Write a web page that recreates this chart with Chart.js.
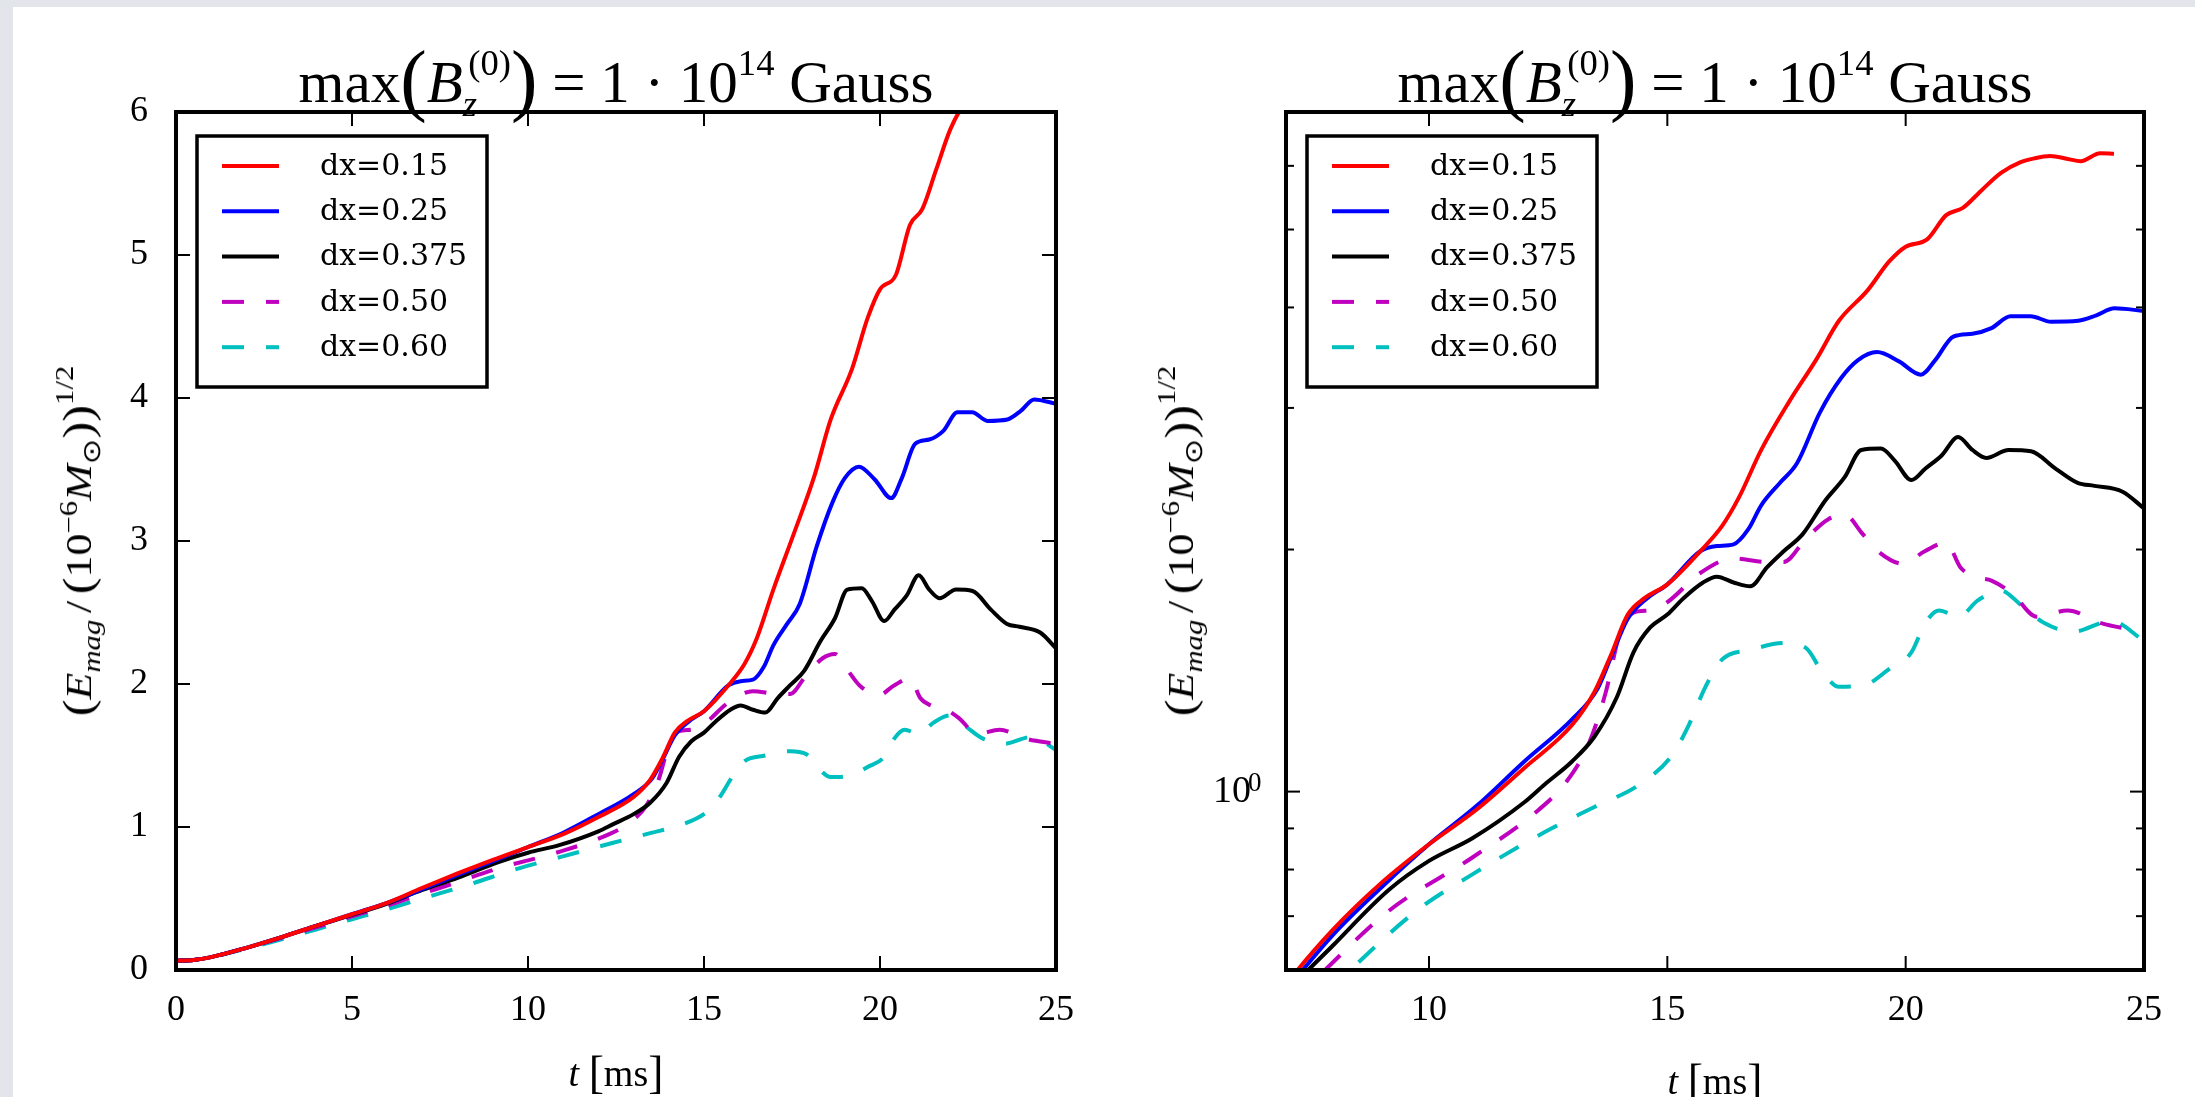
<!DOCTYPE html>
<html>
<head>
<meta charset="UTF-8">
<title>Emag vs t</title>
<script src="https://cdn.jsdelivr.net/npm/chart.js"></script>
<style>
    body {
        margin: 0;
        width: 2195px;
        height: 1097px;
        overflow: hidden;
        position: relative;
        background: #e2e5ea;
        font-family: "Liberation Serif", serif;
        color: #000;
    }
    .page {
        position: absolute;
        left: 13px; top: 7px; right: 0; bottom: 0;
        background: #fff;
    }
    canvas { position: absolute; top: 0; }
    .ttl {
        position: absolute;
        top: 46px;
        font-size: 59px;
        line-height: 59px;
        text-align: center;
        white-space: nowrap;
    }
    .bp { font-size: 1.35em; position: relative; top: 0.05em; }
    .sb { font-size: 0.62em; position: relative; top: 0.38em; }
    .sp { font-size: 0.62em; position: relative; top: -0.75em; }
    .ylab {
        position: absolute;
        font-size: 36px;
        line-height: 36px;
        white-space: nowrap;
        transform: translate(-50%, -50%) rotate(-90deg) scaleX(1.22);
    }
    .ylab .s { font-size: 0.7em; position: relative; }
    .ylab .p { font-size: 1.15em; position: relative; top: 0.03em; }
    .ylab .sl { margin: 0 0.15em; }
    .xlab {
        position: absolute;
        font-size: 38px;
        line-height: 38px;
        text-align: center;
        white-space: nowrap;
    }
    .xlab .p { font-size: 1.2em; position: relative; top: 0.04em; }
</style>
</head>
<body>
<div class="page"></div>
<canvas id="left" width="1100" height="1097" style="left:0"></canvas>
<canvas id="right" width="1095" height="1097" style="left:1100px"></canvas>

<div class="ttl" style="left:176px;width:880px">max<span class="bp">(</span><i>B</i><span class="sb"><i>z</i></span><span class="sp" style="margin-left:-0.24em">(0)</span><span class="bp">)</span> = 1 · 10<span class="sp">14</span> Gauss</div>
<div class="ttl" style="left:1286px;width:858px">max<span class="bp">(</span><i>B</i><span class="sb"><i>z</i></span><span class="sp" style="margin-left:-0.24em">(0)</span><span class="bp">)</span> = 1 · 10<span class="sp">14</span> Gauss</div>

<div class="ylab" style="left:80px;top:541px"><span class="p">(</span><i>E</i><span class="s" style="top:.35em"><i>mag</i></span><span class="sl">/</span><span class="p">(</span>10<span class="s" style="top:-.55em">−6</span><i>M</i><span class="s" style="top:.35em">⊙</span><span class="p">))</span><span class="s" style="top:-.7em">1/2</span></div>
<div class="ylab" style="left:1182px;top:541px"><span class="p">(</span><i>E</i><span class="s" style="top:.35em"><i>mag</i></span><span class="sl">/</span><span class="p">(</span>10<span class="s" style="top:-.55em">−6</span><i>M</i><span class="s" style="top:.35em">⊙</span><span class="p">))</span><span class="s" style="top:-.7em">1/2</span></div>

<div class="xlab" style="left:176px;width:880px;top:1052px"><i>t</i> <span class="p">[</span>ms<span class="p">]</span></div>
<div class="xlab" style="left:1286px;width:858px;top:1060px"><i>t</i> <span class="p">[</span>ms<span class="p">]</span></div>

<script>
    // magnetic energy (E_mag / 1e-6 Msun)^(1/2) against time in ms, one pair of arrays per resolution
    const tRed = [0, 0.5, 1, 2, 3, 4, 5, 6, 7, 8, 9, 10, 11, 12, 13, 13.47, 13.82, 14.17, 14.52, 15.0, 15.69, 16.15, 16.5, 16.97, 17.55, 18.13, 18.6, 19.2, 19.65, 20.0, 20.45, 20.85, 21.2, 21.6, 22.0, 22.4, 22.7, 23.03, 23.4, 23.67, 24.08, 24.37];
    const eRed = [0.065, 0.07, 0.09, 0.155, 0.23, 0.31, 0.39, 0.47, 0.575, 0.675, 0.77, 0.86, 0.95, 1.07, 1.21, 1.33, 1.48, 1.66, 1.74, 1.81, 1.99, 2.14, 2.32, 2.66, 3.05, 3.45, 3.85, 4.2, 4.56, 4.76, 4.86, 5.21, 5.32, 5.6, 5.88, 6.06, 6.13, 6.17, 6.12, 6.08, 6.22, 6.21];

    const tBlue = [0, 0.5, 1, 2, 3, 4, 5, 6, 7, 8, 9, 10, 11, 12, 13, 13.53, 13.82, 14.17, 14.58, 15.0, 15.69, 16.04, 16.39, 16.7, 16.97, 17.36, 17.72, 18.2, 18.65, 19.0, 19.4, 19.85, 20.32, 20.62, 21.0, 21.4, 21.8, 22.2, 22.62, 23.05, 23.62, 24.0, 24.38, 25];
    const eBlue = [0.065, 0.07, 0.09, 0.155, 0.23, 0.31, 0.39, 0.47, 0.565, 0.665, 0.76, 0.86, 0.96, 1.09, 1.23, 1.34, 1.47, 1.64, 1.74, 1.81, 1.99, 2.02, 2.03, 2.12, 2.27, 2.42, 2.56, 2.96, 3.27, 3.44, 3.52, 3.43, 3.30, 3.44, 3.68, 3.71, 3.77, 3.90, 3.90, 3.84, 3.85, 3.91, 3.99, 3.96];

    const tBlack = [0, 0.5, 1, 2, 3, 4, 5, 6, 7, 8, 9.16, 10, 10.91, 12, 12.42, 13.0, 13.47, 13.94, 14.29, 14.64, 15.0, 15.34, 15.75, 16.04, 16.39, 16.74, 17.09, 17.44, 17.84, 18.31, 18.72, 19.07, 19.48, 19.77, 20.12, 20.41, 20.76, 21.1, 21.4, 21.69, 22.16, 22.63, 23.15, 23.61, 23.96, 24.55, 25];
    const eBlack = [0.065, 0.07, 0.09, 0.155, 0.23, 0.31, 0.385, 0.465, 0.56, 0.645, 0.755, 0.82, 0.875, 0.97, 1.02, 1.09, 1.17, 1.31, 1.49, 1.60, 1.66, 1.74, 1.82, 1.85, 1.82, 1.80, 1.90, 1.99, 2.09, 2.30, 2.46, 2.66, 2.67, 2.58, 2.44, 2.52, 2.62, 2.76, 2.66, 2.60, 2.66, 2.65, 2.52, 2.42, 2.40, 2.36, 2.25];

    const tMag = [0, 0.5, 1, 2, 3, 4, 5, 6, 7, 7.82, 9.16, 10.91, 12.31, 12.89, 13.36, 13.71, 14.0, 14.29, 14.64, 15.0, 15.69, 16.39, 17.09, 17.44, 17.9, 18.37, 18.72, 19.1, 19.42, 19.95, 20.4, 20.85, 21.15, 21.45, 21.8, 22.25, 22.75, 23.4, 24.1, 25];
    const eMag = [0.065, 0.07, 0.09, 0.155, 0.225, 0.30, 0.375, 0.45, 0.535, 0.6, 0.711, 0.828, 0.95, 1.03, 1.15, 1.33, 1.57, 1.67, 1.68, 1.72, 1.87, 1.95, 1.93, 1.93, 2.06, 2.18, 2.21, 2.09, 1.99, 1.92, 1.99, 2.04, 1.90, 1.85, 1.83, 1.76, 1.65, 1.68, 1.62, 1.58];

    const tCyan = [0, 0.5, 1, 2, 3, 4, 5, 6, 7, 8.35, 9.74, 10.91, 12.42, 13.47, 14.41, 15.1, 15.45, 15.8, 16.15, 16.74, 17.44, 17.9, 18.25, 18.6, 19.18, 19.65, 20.12, 20.41, 20.7, 21.11, 21.52, 21.98, 22.45, 22.91, 23.5, 24.31, 25];
    const eCyan = [0.065, 0.07, 0.09, 0.15, 0.215, 0.285, 0.355, 0.425, 0.50, 0.6, 0.711, 0.789, 0.89, 0.957, 1.02, 1.11, 1.21, 1.35, 1.46, 1.50, 1.53, 1.51, 1.41, 1.35, 1.36, 1.42, 1.49, 1.62, 1.68, 1.65, 1.73, 1.78, 1.70, 1.62, 1.58, 1.63, 1.54];

    const seriesLabels = ['dx=0.15', 'dx=0.25', 'dx=0.375', 'dx=0.50', 'dx=0.60'];
    const xTicksLeft = [0, 5, 10, 15, 20, 25];
    const xTicksRight = [10, 15, 20, 25];
    const yTicksLeft = [0, 1, 2, 3, 4, 5, 6];
    const yTicksRight = [0.6, 0.7, 0.8, 0.9, 1, 2, 3, 4, 5, 6, 7];

    const tickFont = { family: 'Liberation Serif', size: 36 };

    function pts(ts, es) {
        return ts.map((t, i) => ({ x: t, y: es[i] }));
    }

    function makeDatasets() {
        const style = [
            ['#ff0000', []], ['#0000ff', []], ['#000000', []],
            ['#bf00bf', [22, 22]], ['#00bfbf', [22, 22]]
        ];
        const data = [pts(tRed, eRed), pts(tBlue, eBlue), pts(tBlack, eBlack), pts(tMag, eMag), pts(tCyan, eCyan)];
        return data.map((d, i) => ({
            label: seriesLabels[i],
            data: d,
            borderColor: style[i][0],
            borderDash: style[i][1],
            borderWidth: 4,
            pointRadius: 0,
            fill: false,
            cubicInterpolationMode: 'monotone'
        }));
    }

    // inward ticks on all four sides, black frame and the boxed legend
    const framePlugin = {
        id: 'frame',
        afterDatasetsDraw(chart, args, opts) {
            const ctx = chart.ctx;
            const a = chart.chartArea;
            const sx = chart.scales.x, sy = chart.scales.y;
            ctx.save();
            ctx.strokeStyle = '#000';
            ctx.lineWidth = 2;
            ctx.setLineDash([]);
            const seg = (x1, y1, x2, y2) => {
                ctx.beginPath(); ctx.moveTo(x1, y1); ctx.lineTo(x2, y2); ctx.stroke();
            };
            sx.ticks.forEach(t => {
                const px = sx.getPixelForValue(t.value);
                if (px < a.left + 2 || px > a.right - 2) return;
                seg(px, a.bottom, px, a.bottom - 14);
                seg(px, a.top, px, a.top + 14);
            });
            sy.ticks.forEach(t => {
                const py = sy.getPixelForValue(t.value);
                if (py < a.top + 2 || py > a.bottom - 2) return;
                const len = (sy.type === 'logarithmic' && t.value !== 1) ? 8 : 14;
                seg(a.left, py, a.left + len, py);
                seg(a.right, py, a.right - len, py);
            });
            ctx.lineWidth = 4;
            ctx.strokeRect(a.left, a.top, a.width, a.height);

            // exponent of the 10^0 label on the log axis
            if (sy.type === 'logarithmic') {
                const py = sy.getPixelForValue(1);
                ctx.fillStyle = '#000';
                ctx.font = '27px "Liberation Serif"';
                ctx.textAlign = 'left';
                ctx.textBaseline = 'alphabetic';
                ctx.fillText('0', a.left - 38, py - 1);
            }

            // legend
            const lx = a.left + opts.dx, ly = a.top + opts.dy;
            ctx.fillStyle = '#fff';
            ctx.fillRect(lx, ly, opts.w, opts.h);
            ctx.lineWidth = 3.5;
            ctx.strokeRect(lx, ly, opts.w, opts.h);
            ctx.font = '30px "DejaVu Serif"';
            ctx.textBaseline = 'middle';
            ctx.textAlign = 'left';
            chart.data.datasets.forEach((ds, i) => {
                const ry = ly + 30 + i * 45.3;
                ctx.strokeStyle = ds.borderColor;
                ctx.setLineDash(ds.borderDash);
                ctx.lineWidth = 4;
                seg(lx + 25, ry, lx + 82, ry);
                ctx.setLineDash([]);
                ctx.fillStyle = '#000';
                ctx.fillText(ds.label, lx + 123, ry + 1);
            });
            ctx.restore();
        }
    };

    function makeChart(id, cfg) {
        return new Chart(document.getElementById(id), {
            type: 'line',
            data: { datasets: makeDatasets() },
            plugins: [framePlugin],
            options: {
                responsive: false,
                animation: false,
                devicePixelRatio: 1,
                layout: { padding: { left: 0, top: 112, right: cfg.padRight, bottom: 0 } },
                plugins: {
                    legend: { display: false },
                    tooltip: { enabled: false },
                    frame: { dx: 21, dy: 24, w: 290, h: 251 }
                },
                scales: {
                    x: {
                        type: 'linear',
                        min: cfg.xMin, max: 25,
                        afterBuildTicks: s => { s.ticks = cfg.xTicks.map(v => ({ value: v })); },
                        afterFit: s => { s.height = 127; },
                        grid: { display: false },
                        border: { display: false },
                        ticks: { font: tickFont, color: '#000', padding: 11, autoSkip: false, maxRotation: 0 }
                    },
                    y: {
                        type: cfg.yType,
                        min: cfg.yMin, max: cfg.yMax,
                        afterBuildTicks: s => { s.ticks = cfg.yTicks.map(v => ({ value: v })); },
                        afterFit: s => { s.width = cfg.yWidth; },
                        grid: { display: false },
                        border: { display: false },
                        ticks: {
                            font: cfg.yFont, color: '#000', padding: cfg.yPad, autoSkip: false,
                            callback: cfg.yLabel
                        }
                    }
                }
            }
        });
    }

    makeChart('left', {
        padRight: 44, xMin: 0, xTicks: xTicksLeft,
        yType: 'linear', yMin: 0, yMax: 6, yTicks: yTicksLeft, yWidth: 176, yPad: 20,
        yFont: tickFont, yLabel: v => String(v)
    });

    makeChart('right', {
        padRight: 51, xMin: 7, xTicks: xTicksRight,
        yType: 'logarithmic', yMin: 0.6, yMax: 7, yTicks: yTicksRight, yWidth: 186, yPad: 27,
        yFont: { family: 'Liberation Serif', size: 38 }, yLabel: v => (v === 1 ? '10' : '')
    });
</script>
</body>
</html>
